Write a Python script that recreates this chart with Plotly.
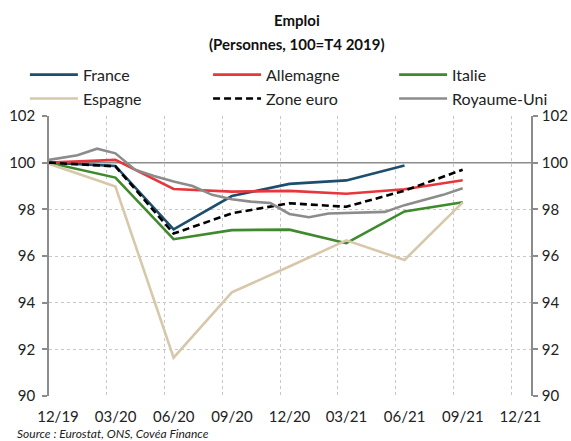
import plotly.graph_objects as go

# ---------------- data ----------------
quarter_dates = ["2019-12-01", "2020-03-15", "2020-06-15", "2020-09-15", "2020-12-15",
                 "2021-03-15", "2021-06-15", "2021-09-15"]
france = [100.0, 99.86, 97.14, 98.57, 99.09, 99.24, 99.88]
allemagne = [100.0, 100.12, 98.87, 98.76, 98.79, 98.67, 98.86, 99.25]
italie = [100.0, 99.36, 96.72, 97.11, 97.13, 96.55, 97.91, 98.3]
espagne = [99.95, 98.98, 91.64, 94.44, 95.55, 96.67, 95.83, 98.3]
zone_euro = [100.0, 99.84, 96.96, 97.83, 98.26, 98.11, 98.8, 99.7]

uk_dates = ["2019-12-01", "2020-01-15", "2020-02-15", "2020-03-15", "2020-04-15", "2020-05-15",
            "2020-06-15", "2020-07-15", "2020-08-15", "2020-09-15", "2020-10-15", "2020-11-15",
            "2020-12-15", "2021-01-15", "2021-02-15", "2021-03-15", "2021-04-15", "2021-05-15",
            "2021-06-15", "2021-07-15", "2021-08-15", "2021-09-15"]
royaume_uni = [100.12, 100.32, 100.6, 100.4, 99.7, 99.43, 99.19, 99.0, 98.62, 98.43, 98.33, 98.27,
               97.8, 97.66, 97.82, 97.85, 97.87, 97.89, 98.18, 98.4, 98.62, 98.9]

y_ticks = [90, 92, 94, 96, 98, 100, 102]
x_range = ["2019-12-01", "2022-01-01"]
base_value = 100

FONT = "Lato"

fig = go.Figure()

# reference line at base 100 (drawn first, under the series)
fig.add_trace(go.Scatter(x=x_range, y=[base_value, base_value], mode="lines",
                         showlegend=False, hoverinfo="skip",
                         line=dict(color="#8C8C8C", width=1.5)))

series = [
    ("France", quarter_dates[:len(france)], france, "#1D4E6E", "solid", "legend"),
    ("Allemagne", quarter_dates, allemagne, "#E8363D", "solid", "legend2"),
    ("Italie", quarter_dates, italie, "#3E8A2C", "solid", "legend3"),
    ("Espagne", quarter_dates, espagne, "#D8C8AB", "solid", "legend"),
    ("Zone euro", quarter_dates, zone_euro, "#000000", "7px,4px", "legend2"),
    ("Royaume-Uni", uk_dates, royaume_uni, "#8C8C8C", "solid", "legend3"),
]
for name, xs, ys, color, dash, leg in series:
    fig.add_trace(go.Scatter(x=xs, y=ys, name=name, mode="lines", legend=leg,
                             line=dict(color=color, width=2.6, dash=dash)))

# invisible trace to anchor right axis
fig.add_trace(go.Scatter(x=quarter_dates[:1], y=[base_value], yaxis="y2", mode="lines",
                         showlegend=False, hoverinfo="skip", line=dict(width=0)))

axis_font = dict(family=FONT, size=15, color="#222222")
leg_common = dict(orientation="v", y=1.208, yanchor="top", itemwidth=48,
                  font=dict(family=FONT, size=16, color="#222222"),
                  bgcolor="rgba(0,0,0,0)", tracegroupgap=0)
fig.update_layout(
    width=571, height=441,
    margin=dict(l=49, r=40, t=116, b=45, autoexpand=False),
    paper_bgcolor="white", plot_bgcolor="white",
    font=dict(family=FONT, size=14, color="#222222"),
    showlegend=True,
    legend=dict(x=-0.05, xanchor="left", **leg_common),
    legend2=dict(x=0.33, xanchor="left", **leg_common),
    legend3=dict(x=0.716, xanchor="left", **leg_common),
    xaxis=dict(type="date", range=x_range, tick0="2019-12-01", dtick="M3",
               tickformat="%m/%y", ticks="", showline=False, zeroline=False,
               showgrid=True, gridcolor="#C8C8C8", griddash="dot", gridwidth=1,
               ticklabelshift=9, ticklabelstandoff=10, tickfont=axis_font),
    yaxis=dict(range=[90, 102], tickvals=y_ticks, showgrid=True, gridcolor="#C8C8C8",
               griddash="dot", gridwidth=1, zeroline=False, showline=True,
               linecolor="#8C8C8C", linewidth=1.5, ticks="outside", ticklen=5,
               tickcolor="#8C8C8C", tickwidth=1.5, tickfont=axis_font, ticklabelstandoff=4),
    yaxis2=dict(range=[90, 102], tickvals=y_ticks, overlaying="y", side="right",
                showgrid=False, zeroline=False, showline=True, linecolor="#8C8C8C",
                linewidth=1.5, ticks="outside", ticklen=5, tickcolor="#8C8C8C",
                tickwidth=1.5, tickfont=axis_font, ticklabelstandoff=1),
    annotations=[
        dict(text="<b>Emploi</b>", xref="paper", yref="paper", x=0.515, y=1.343,
             xanchor="center", yanchor="middle", showarrow=False,
             font=dict(family=FONT, size=15, color="#111111")),
        dict(text="<b>(Personnes, 100=T4 2019)</b>", xref="paper", yref="paper", x=0.515, y=1.257,
             xanchor="center", yanchor="middle", showarrow=False,
             font=dict(family=FONT, size=15, color="#111111")),
        dict(text="<i>Source : Eurostat, ONS, Covéa Finance</i>", xref="paper", yref="paper",
             x=-0.071, y=-0.134, xanchor="left", yanchor="middle", showarrow=False,
             font=dict(family=FONT, size=12, color="#222222")),
    ],
)

fig.write_html("out.html", config={"displayModeBar": False},
               post_script="document.body.style.margin='0';document.body.style.padding='0';")
